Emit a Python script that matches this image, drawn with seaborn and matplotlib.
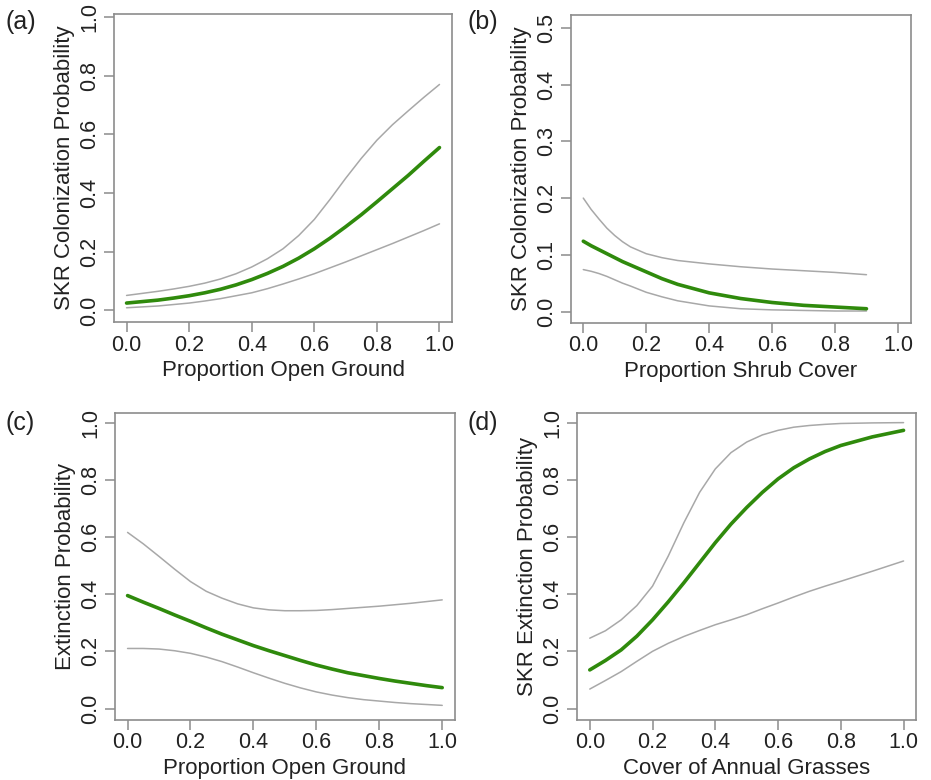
import seaborn as sns
import matplotlib.pyplot as plt

# panel (a): colonization vs open ground
x_a = [0.0, 0.05, 0.1, 0.15, 0.2, 0.25, 0.3, 0.35, 0.4, 0.45, 0.5,
       0.55, 0.6, 0.65, 0.7, 0.75, 0.8, 0.85, 0.9, 0.95, 1.0]
fit_a = [0.025, 0.03, 0.035, 0.042, 0.05, 0.06, 0.072, 0.087, 0.105, 0.126, 0.15,
         0.178, 0.21, 0.246, 0.285, 0.326, 0.37, 0.415, 0.46, 0.508, 0.555]
up_a = [0.051, 0.058, 0.065, 0.073, 0.082, 0.093, 0.107, 0.125, 0.148, 0.176, 0.21,
        0.255, 0.31, 0.378, 0.45, 0.518, 0.58, 0.633, 0.68, 0.726, 0.77]
lo_a = [0.009, 0.012, 0.015, 0.02, 0.025, 0.032, 0.04, 0.05, 0.06, 0.074, 0.09,
        0.107, 0.125, 0.145, 0.165, 0.186, 0.207, 0.228, 0.25, 0.272, 0.295]

# panel (b): colonization vs shrub cover
x_b = [0.0, 0.025, 0.05, 0.075, 0.1, 0.125, 0.15, 0.2, 0.25, 0.3, 0.4, 0.5, 0.6, 0.7, 0.8, 0.9]
fit_b = [0.124, 0.116, 0.109, 0.102, 0.095, 0.088, 0.082, 0.07, 0.058, 0.048,
         0.033, 0.023, 0.016, 0.011, 0.008, 0.005]
up_b = [0.20, 0.18, 0.163, 0.147, 0.134, 0.123, 0.114, 0.102, 0.095, 0.09,
        0.084, 0.079, 0.075, 0.072, 0.069, 0.065]
lo_b = [0.074, 0.071, 0.067, 0.062, 0.056, 0.05, 0.045, 0.034, 0.026, 0.019,
        0.01, 0.005, 0.003, 0.002, 0.001, 0.001]

# panel (c): extinction vs open ground
x_c = [0.0, 0.05, 0.1, 0.15, 0.2, 0.25, 0.3, 0.35, 0.4, 0.45, 0.5,
       0.55, 0.6, 0.65, 0.7, 0.75, 0.8, 0.85, 0.9, 0.95, 1.0]
fit_c = [0.395, 0.372, 0.35, 0.327, 0.305, 0.282, 0.26, 0.24, 0.22, 0.202, 0.185,
         0.168, 0.152, 0.138, 0.125, 0.115, 0.105, 0.096, 0.088, 0.08, 0.073]
up_c = [0.616, 0.576, 0.532, 0.487, 0.444, 0.41, 0.386, 0.366, 0.352, 0.345, 0.342,
        0.342, 0.343, 0.346, 0.35, 0.354, 0.358, 0.363, 0.368, 0.374, 0.38]
lo_c = [0.21, 0.21, 0.208, 0.202, 0.193, 0.18, 0.164, 0.145, 0.125, 0.106, 0.088,
        0.072, 0.058, 0.047, 0.038, 0.031, 0.026, 0.021, 0.017, 0.014, 0.011]

# panel (d): extinction vs annual grasses
x_d = [0.0, 0.05, 0.1, 0.15, 0.2, 0.25, 0.3, 0.35, 0.4, 0.45, 0.5,
       0.55, 0.6, 0.65, 0.7, 0.75, 0.8, 0.9, 1.0]
fit_d = [0.135, 0.168, 0.205, 0.253, 0.31, 0.373, 0.44, 0.51, 0.58, 0.645, 0.703,
         0.756, 0.803, 0.842, 0.873, 0.899, 0.92, 0.95, 0.973]
up_d = [0.246, 0.272, 0.31, 0.36, 0.428, 0.533, 0.65, 0.756, 0.838, 0.895, 0.932,
        0.957, 0.973, 0.984, 0.99, 0.994, 0.997, 0.999, 1.0]
lo_d = [0.068, 0.098, 0.129, 0.165, 0.2, 0.228, 0.252, 0.273, 0.293, 0.31, 0.328,
        0.349, 0.369, 0.39, 0.41, 0.428, 0.445, 0.48, 0.516]

panels = [
    ("(a)", x_a, fit_a, up_a, lo_a, "Proportion Open Ground", "SKR Colonization Probability",
     [0, 0.2, 0.4, 0.6, 0.8, 1.0], (-0.04, 1.01)),
    ("(b)", x_b, fit_b, up_b, lo_b, "Proportion Shrub Cover", "SKR Colonization Probability",
     [0, 0.1, 0.2, 0.3, 0.4, 0.5], (-0.02, 0.523)),
    ("(c)", x_c, fit_c, up_c, lo_c, "Proportion Open Ground", "Extinction Probability",
     [0, 0.2, 0.4, 0.6, 0.8, 1.0], (-0.04, 1.035)),
    ("(d)", x_d, fit_d, up_d, lo_d, "Cover of Annual Grasses", "SKR Extinction Probability",
     [0, 0.2, 0.4, 0.6, 0.8, 1.0], (-0.04, 1.035)),
]
xticks = [0, 0.2, 0.4, 0.6, 0.8, 1.0]

green = "#2f8a0c"
grey = "#a8a8a8"
frame = "#8c8c8c"

sns.set_theme(style="ticks")
plt.rcParams["font.family"] = ["Liberation Sans", "DejaVu Sans"]

fig = plt.figure(figsize=(9.31, 7.8), dpi=100)
boxes = [[0.1225, 0.587, 0.363, 0.395],
         [0.613, 0.586, 0.365, 0.395],
         [0.1235, 0.077, 0.365, 0.394],
         [0.62, 0.077, 0.364, 0.394]]
labpos = [(0.006, 0.972), (0.502, 0.972), (0.006, 0.458), (0.502, 0.458)]

for (tag, x, fit, up, lo, xl, yl, yt, ylim), box, lp in zip(panels, boxes, labpos):
    ax = fig.add_axes(box)
    sns.lineplot(x=x, y=up, color=grey, lw=1.1, ax=ax)
    sns.lineplot(x=x, y=lo, color=grey, lw=1.1, ax=ax)
    sns.lineplot(x=x, y=fit, color=green, lw=2.6, ax=ax)
    ax.set_xlim(-0.04, 1.04)
    ax.set_ylim(*ylim)
    ax.set_xticks(xticks)
    ax.set_xticklabels([f"{v:.1f}" for v in xticks])
    ax.set_yticks(yt)
    ax.set_yticklabels([f"{v:.1f}" for v in yt], rotation=90, va="center")
    for s in ax.spines.values():
        s.set_color(frame)
        s.set_linewidth(1.2)
        s.set_visible(True)
    ax.tick_params(colors=frame, labelcolor="#222222", length=7, width=1.1,
                   labelsize=15.5, direction="out")
    ax.tick_params(axis="x", pad=2)
    ax.tick_params(axis="y", pad=3)
    ax.set_xlabel(xl, fontsize=16, color="#222222", labelpad=3)
    ax.set_ylabel(yl, fontsize=16, color="#222222", labelpad=3)
    fig.text(lp[0], lp[1], tag, fontsize=18, color="#222222", ha="left", va="center")

fig.savefig("out.png", dpi=100)
